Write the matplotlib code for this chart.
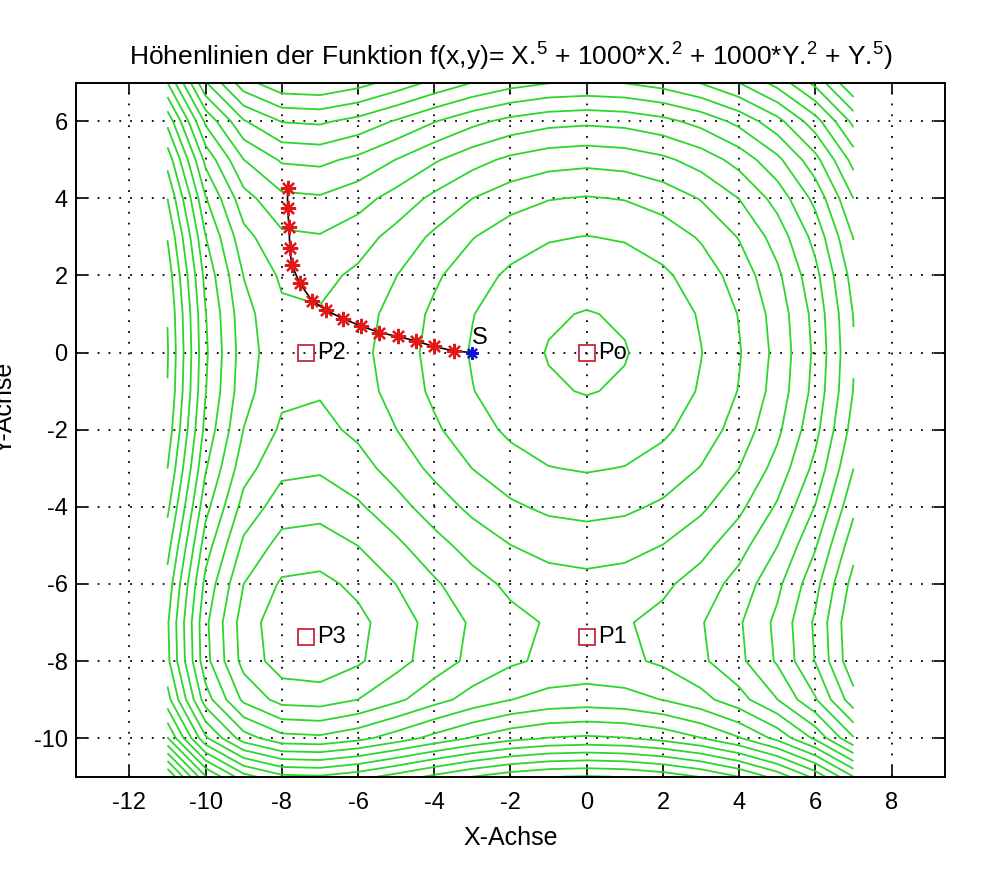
import numpy as np
import matplotlib
matplotlib.use("Agg")
import matplotlib.pyplot as plt

plt.rcParams['font.family'] = ['Liberation Sans', 'DejaVu Sans']
plt.rcParams['mathtext.fontset'] = 'custom'
plt.rcParams['mathtext.rm'] = 'Liberation Sans'
plt.rcParams['mathtext.it'] = 'Liberation Sans'
plt.rcParams['axes.unicode_minus'] = False

# grid of the contour plot (from the title's function)
x_grid = np.arange(-11, 8, 1)
y_grid = np.arange(-11, 8, 1)
n_levels = 25

# search path
path_x = [-3.0, -3.47, -4.02, -4.48, -4.96, -5.44, -5.92, -6.40, -6.84, -7.21, -7.53, -7.74, -7.79, -7.81, -7.85, -7.85]
path_y = [0.0, 0.04, 0.16, 0.30, 0.42, 0.52, 0.69, 0.88, 1.10, 1.35, 1.80, 2.27, 2.71, 3.25, 3.74, 4.27]

# critical points
pt_names = ['Po', 'P1', 'P2', 'P3']
pt_x = [0.0, 0.0, -7.37, -7.37]
pt_y = [0.0, -7.37, 0.0, -7.37]

xticks = [-12, -10, -8, -6, -4, -2, 0, 2, 4, 6, 8]
yticks = [-10, -8, -6, -4, -2, 0, 2, 4, 6]

X, Y = np.meshgrid(x_grid, y_grid)
Z = X**5 + 1000 * X**2 + 1000 * Y**2 + Y**5
levels = np.linspace(Z.min(), Z.max(), n_levels + 2)[1:-1]

fig = plt.figure(figsize=(9.9, 8.69), dpi=100)
ax = fig.add_axes([76 / 990, (869 - 776.7) / 869, 869 / 990, 694 / 869])

ax.contour(X, Y, Z, levels=levels, colors='#2cd62c', linewidths=1.3,
           negative_linestyles='solid')

ax.plot(path_x, path_y, color='black', lw=1.2, zorder=3)
ax.plot(path_x[1:], path_y[1:], linestyle='none', marker=(8, 2, 0), ms=11,
        mec='#e01818', mew=1.6, zorder=4)
ax.plot(path_x[:1], path_y[:1], linestyle='none', marker=(8, 2, 0), ms=9,
        mec='#1010d0', mew=1.6, zorder=5)
ax.text(path_x[0], path_y[0] + 0.38, 'S', fontsize=17, va='center', ha='left')

ax.plot(pt_x, pt_y, linestyle='none', marker='s', ms=11, mfc='none',
        mec='#c8283c', mew=1.3, zorder=4)
for n, px, py in zip(pt_names, pt_x, pt_y):
    ax.text(px + 0.3, py, n, fontsize=17, va='center', ha='left')

ax.set_xlim(-13.4, 9.4)
ax.set_ylim(-11, 7)
ax.set_xticks(xticks)
ax.set_yticks(yticks)
ax.tick_params(direction='in', length=8, width=1.2, top=True, right=True,
               labelsize=17)
ax.tick_params(axis='x', pad=11)
ax.tick_params(axis='y', pad=6)
ax.grid(True, color='black', linestyle=(0, (1, 5)), linewidth=1.3)
for s in ax.spines.values():
    s.set_linewidth(1.4)

ax.set_title(r'Höhenlinien der Funktion f(x,y)= X.$^5$ + 1000*X.$^2$ + 1000*Y.$^2$ + Y.$^5$)',
             fontsize=19, pad=12)
ax.set_xlabel('X-Achse', fontsize=18, labelpad=9)
fig.text(-0.008, (869 - 408) / 869, 'Y-Achse', rotation=90, fontsize=18,
         ha='left', va='center')

fig.savefig('out.png', dpi=100)
